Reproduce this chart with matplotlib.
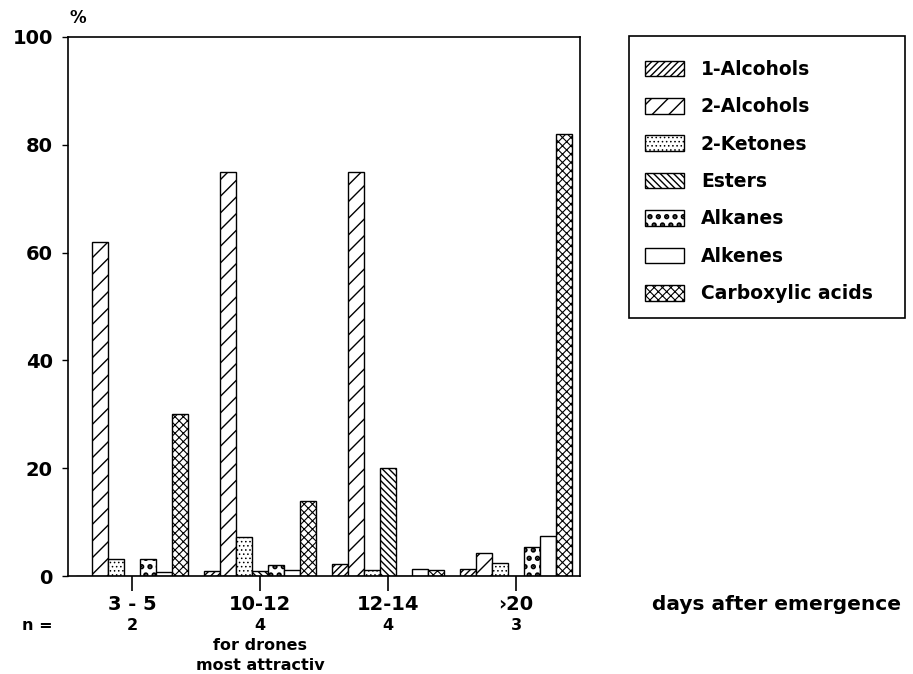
import matplotlib
matplotlib.use("Agg")
import matplotlib.pyplot as plt
import numpy as np
from matplotlib.patches import Patch, Rectangle

groups = ["3 - 5", "10-12", "12-14", "\u203a20"]
n_values = ["2", "4", "4", "3"]
series = ["1-Alcohols", "2-Alcohols", "2-Ketones", "Esters", "Alkanes", "Alkenes", "Carboxylic acids"]
alcohols1 = [0.0, 1.0, 2.2, 1.3]
alcohols2 = [62.0, 75.0, 75.0, 4.3]
ketones2 = [3.2, 7.2, 1.1, 2.4]
esters = [0.0, 1.0, 20.0, 0.0]
alkanes = [3.2, 2.0, 0.0, 5.4]
alkenes = [0.7, 1.1, 1.3, 7.4]
carboxylic = [30.0, 14.0, 1.2, 82.0]
values = [alcohols1, alcohols2, ketones2, esters, alkanes, alkenes, carboxylic]
hatches = ["/////", "//", "....", "\\\\\\\\\\", "..", "", "xxxx"]
hatch_lw = [1.0, 1.0, 0.6, 1.0, 2.6, 1.0, 0.8]

plt.rcParams['font.family'] = ['DejaVu Sans']
plt.rcParams['font.weight'] = 'bold'

fig = plt.figure(figsize=(9.13, 6.74), dpi=100)
W, H = 913, 674
L, R, T, B = 68, 580, 37, 576
ax = fig.add_axes([L / W, 1 - B / H, (R - L) / W, (B - T) / H])

x = np.arange(len(groups))
w = 1 / 8
handles = []
for i, (name, vals) in enumerate(zip(series, values)):
    with plt.rc_context({'hatch.linewidth': hatch_lw[i], 'hatch.color': 'black'}):
        ax.bar(x + (i - 3) * w, vals, width=w, color='white', edgecolor='black',
               linewidth=1.0, hatch=hatches[i], zorder=2)
        handles.append(Patch(facecolor='white', edgecolor='black', linewidth=1.0,
                             hatch=hatches[i], label=name))

ax.set_xlim(-0.5, 3.5)
ax.set_ylim(0, 100)
ax.set_yticks([0, 20, 40, 60, 80, 100])
ax.set_yticklabels(["0", "20", "40", "60", "80", "100"], fontsize=14, fontweight='bold')
ax.set_xticks(x)
ax.set_xticklabels([])
ax.tick_params(axis='x', direction='out', length=11, width=1.2)
ax.tick_params(axis='y', direction='out', length=4, width=1.0, pad=7)
for s in ax.spines.values():
    s.set_linewidth(1.2)

tr = ax.get_xaxis_transform()
def yax(py):
    return (B - py) / (B - T)

for xi, g, n in zip(x, groups, n_values):
    ax.text(xi, yax(605), g, transform=tr, ha='center', va='center', fontsize=14, fontweight='bold')
    ax.text(xi, yax(626), n, transform=tr, ha='center', va='center', fontsize=11.5, fontweight='bold')
ax.text(1, yax(646), "for drones", transform=tr, ha='center', va='center', fontsize=11.5, fontweight='bold')
ax.text(1, yax(665), "most attractiv", transform=tr, ha='center', va='center', fontsize=11.5, fontweight='bold')
fig.text(37 / W, 1 - 626 / H, "n =", ha='center', va='center', fontsize=11.5, fontweight='bold')
fig.text(777 / W, 1 - 605 / H, "days after emergence", ha='center', va='center', fontsize=14.5, fontweight='bold')
fig.text(78 / W, 1 - 18 / H, "%", ha='center', va='center', fontsize=12, fontweight='bold')

fs = 13.5
fpx = fs * 100 / 72
leg = ax.legend(handles=handles, loc='upper left', bbox_to_anchor=(629 / W, 1 - 44 / H),
                bbox_transform=fig.transFigure, fontsize=fs, frameon=False,
                borderaxespad=0, handlelength=39 / fpx, handleheight=17 / fpx,
                handletextpad=17 / fpx, labelspacing=0.98, borderpad=0.85,
                prop={'weight': 'bold', 'size': fs})
for p, lw in zip(leg.get_patches(), hatch_lw):
    if hasattr(p, 'set_hatch_linewidth'):
        p.set_hatch_linewidth(lw)
    else:
        p._hatch_linewidth = lw

fig.add_artist(Rectangle((629 / W, 1 - 318 / H), 276 / W, 282 / H, transform=fig.transFigure,
                         fill=False, edgecolor='black', linewidth=1.2))

fig.savefig("out.png", dpi=100)
